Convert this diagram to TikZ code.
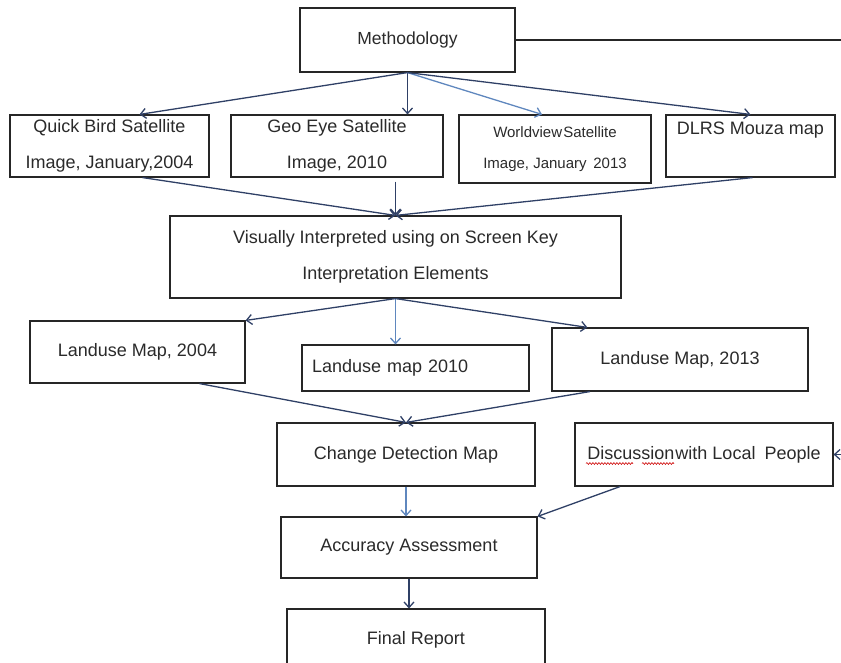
\documentclass[tikz,border=0pt]{standalone}
\usepackage{fontspec}
\setmainfont{Liberation Sans}
\usetikzlibrary{arrows.meta,decorations.pathmorphing}
\definecolor{arrdark}{HTML}{2F4066}
\definecolor{arrlight}{HTML}{5F87BE}
\definecolor{boxline}{HTML}{262626}
\definecolor{txt}{HTML}{2A2A2A}
\begin{document}
\begin{tikzpicture}[x=1pt,y=-1pt,
  box/.style={draw=boxline, line width=1.15pt, rectangle, inner sep=0pt, align=center,
    font=\fontsize{18pt}{36pt}\selectfont, text=txt},
  arr/.style={draw=arrdark, line width=1.3pt, -{Straight Barb[length=5.5pt,width=10pt]}},
  arrl/.style={arr, draw=arrlight},
  wavy/.style={draw=red!80!black, line width=0.6pt, decorate,
    decoration={snake, segment length=3pt, amplitude=0.9pt}}]
\useasboundingbox (0,0) rectangle (841,662);
\clip (0,0) rectangle (841,662);

% nodes
\node[box, minimum width=215pt, minimum height=64pt, font=\fontsize{17.5pt}{21pt}\selectfont] (meth) at (407.5,40) {Methodology};
\node[box, minimum width=199pt, minimum height=62pt] (qb) at (109.5,146) {Quick Bird Satellite\\Image, January,2004};
\node[box, minimum width=212pt, minimum height=62pt] (geo) at (337,146) {Geo Eye Satellite\\Image, 2010};
\node[box, minimum width=192pt, minimum height=68pt, font=\fontsize{15pt}{31pt}\selectfont] (wv) at (555,149) {Worldview\hspace{0.08em}Satellite\\Image, January\hspace{0.45em}2013};
\node[box, minimum width=169pt, minimum height=62pt] (dlrs) at (750.5,146) {DLRS Mouza map\\~};
\node[box, minimum width=451pt, minimum height=82pt] (vis) at (395.5,257) {Visually Interpreted using on Screen Key\\Interpretation Elements};
\node[box, minimum width=215pt, minimum height=62pt] (l04) at (137.5,352) {Landuse Map, 2004};
\node[box, minimum width=227pt, minimum height=46pt, inner xsep=10pt, text width=207pt, align=left] (l10) at (415.5,368) {Landuse map 2010};
\node[box, minimum width=256pt, minimum height=63pt] (l13) at (680,359.5) {Landuse Map, 2013};
\node[box, minimum width=258pt, minimum height=63pt] (chg) at (406,454.5) {Change Detection Map};
\node[box, minimum width=258pt, minimum height=63pt] (disc) at (704,454.5) {Discussion\hspace{0.06em}with Local\hspace{0.5em}People};
\node[box, minimum width=256pt, minimum height=61pt] (acc) at (409,547.5) {Accuracy Assessment};
\node[box, minimum width=258pt, minimum height=61pt] (fin) at (416,639.5) {Final Report};

% spell-check underline
\draw[wavy] ([xshift=-118pt,yshift=-9pt]disc.center) -- ([xshift=-71pt,yshift=-9pt]disc.center);
\draw[wavy] ([xshift=-62pt,yshift=-9pt]disc.center) -- ([xshift=-30pt,yshift=-9pt]disc.center);

% free ends
\coordinate (rtop) at (841,40);
\coordinate (rdisc) at (841,454.5);

% connectors
\draw[draw=boxline, line width=1.15pt] (meth.east) -- (rtop);
\draw[arr] (meth.south) -- ([xshift=30pt]qb.north);
\draw[arr] (meth.south) -- (meth.south |- geo.north);
\draw[arrl] (meth.south) -- ([xshift=-13pt]wv.north);
\draw[arr] (meth.south) -- (dlrs.north);

\draw[arr] ([xshift=33pt]qb.south) -- (vis.north);
\draw[arr] ([yshift=-4pt]geo.south -| vis.north) -- (vis.north);
\draw[arr] ([xshift=2pt]dlrs.south) -- (vis.north);

\draw[arr] (vis.south) -- (l04.north east);
\draw[arrl] (vis.south) -- (vis.south |- l10.north);
\draw[arr] (vis.south) -- ([xshift=36pt]l13.north west);

\draw[arr] ([xshift=62pt]l04.south) -- (chg.north);
\draw[arr] ([xshift=-90pt]l13.south) -- (chg.north);

\draw[arrl] (chg.south) -- (chg.south |- acc.north);
\draw[arr] ([xshift=-84pt]disc.south) -- (acc.north east);
\draw[arr] (rdisc) -- (disc.east);

\draw[arr] (acc.south) -- (acc.south |- fin.north);
\end{tikzpicture}
\end{document}
